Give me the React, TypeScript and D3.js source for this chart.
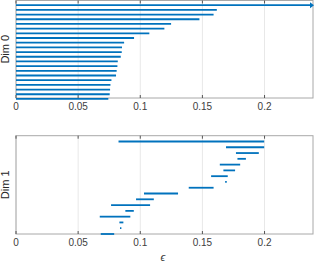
import React from "react";
import * as d3 from "d3";

const xTicks = [0, 0.05, 0.1, 0.15, 0.2];
const xTickLabels = ["0", "0.05", "0.1", "0.15", "0.2"];
const xMax = 0.239;

// Dim 0 bars: all born at 0, death values (Infinity = infinite bar)
const dim0Deaths = [
  Infinity, 0.1616, 0.159, 0.1476, 0.1248, 0.1194, 0.1073, 0.095, 0.087, 0.0853,
  0.0851, 0.0843, 0.0819, 0.0816, 0.081, 0.0805, 0.0768, 0.076, 0.0757, 0.0754, 0.0743,
];

// Dim 1 bars: birth / death
const dim1Births = [
  0.0825, 0.169, 0.177, 0.1782, 0.164, 0.1669, 0.157, 0.1683, 0.139, 0.103,
  0.0966, 0.0765, 0.088, 0.0674, 0.0832, 0.0837, 0.0682,
];
const dim1Deaths = [
  0.1997, 0.1997, 0.1954, 0.185, 0.1804, 0.1763, 0.1704, 0.1696, 0.159, 0.1304,
  0.1109, 0.1079, 0.0948, 0.092, 0.0864, 0.0848, 0.079,
];

const BLUE = "#0072BD";
const FONT = "Helvetica, Arial, 'Liberation Sans', sans-serif";

function Panel({ top, bottom, n, bars, label, arrowInf }: any) {
  const x = d3.scaleLinear().domain([0, xMax]).range([16, 313]);
  const y = d3.scaleLinear().domain([0, n]).range([top, bottom]);
  return (
    <g>
      {xTicks.map((t, i) => (
        <line key={"g" + i} x1={x(t)} x2={x(t)} y1={top} y2={bottom} stroke="#e8e8e8" strokeWidth={1} />
      ))}
      <rect x={x(0)} y={top} width={x(xMax) - x(0)} height={bottom - top} fill="none" stroke="#a8a8a8" strokeWidth={1} />
      {xTicks.map((t, i) => (
        <g key={"t" + i}>
          <line x1={x(t)} x2={x(t)} y1={bottom} y2={bottom - 3} stroke="#555" strokeWidth={1} />
          <line x1={x(t)} x2={x(t)} y1={top} y2={top + 3} stroke="#555" strokeWidth={1} />
          <text x={x(t)} y={bottom + 12} textAnchor="middle" fontSize={10} fill="#404040" fontFamily={FONT}>
            {xTickLabels[i]}
          </text>
        </g>
      ))}
      {bars.map((b: any, i: number) => {
        const yy = y(i + 1);
        const inf = !isFinite(b[1]);
        const x2 = inf ? x(xMax) - 3 : x(b[1]);
        return (
          <g key={"b" + i}>
            <line x1={x(b[0])} x2={x2} y1={yy} y2={yy} stroke={BLUE} strokeWidth={1.8} />
            {inf && arrowInf ? (
              <path d={`M${x2},${yy - 3}L${x2 + 4},${yy}L${x2},${yy + 3}Z`} fill={BLUE} />
            ) : null}
          </g>
        );
      })}
      <text
        transform={`translate(9,${(top + bottom) / 2}) rotate(-90)`}
        textAnchor="middle"
        fontSize={11}
        fill="#262626"
        fontFamily={FONT}
      >
        {label}
      </text>
    </g>
  );
}

export default function App() {
  const bars0 = dim0Deaths.map((d) => [0, d]);
  const bars1 = dim1Births.map((b, i) => [b, dim1Deaths[i]]);
  return (
    <svg width={316} height={265} style={{ position: "absolute", left: 0, top: 0, background: "#fff" }}>
      <rect width={316} height={265} fill="#fff" />
      <Panel top={0.5} bottom={98} n={20.8} bars={bars0} label="Dim 0" arrowInf />
      <Panel top={135.7} bottom={234} n={17} bars={bars1} label="Dim 1" />
      <text x={163} y={261} textAnchor="middle" fontSize={11} fontStyle="italic" fill="#404040" fontFamily={FONT}>
        ϵ
      </text>
    </svg>
  );
}
